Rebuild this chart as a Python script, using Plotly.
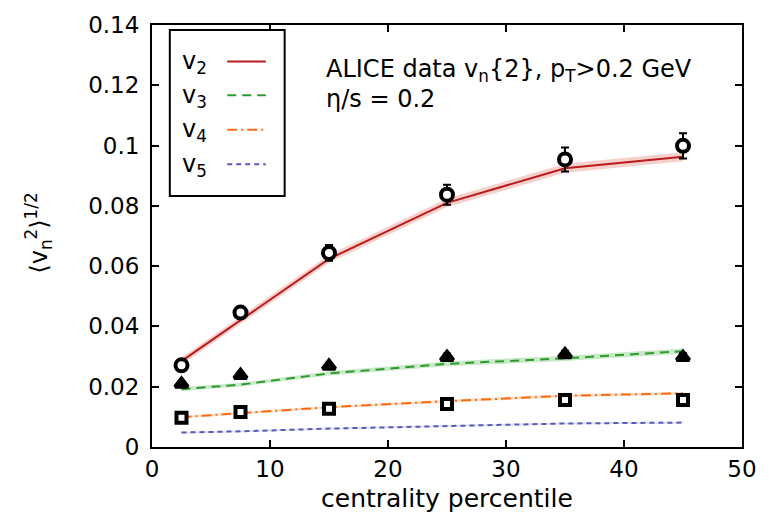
import plotly.graph_objects as go

# centrality bins (percent)
centrality = [2.5, 7.5, 15, 25, 35, 45]

# ALICE v_n{2} measurements and uncertainties
alice_v2 = [0.0271, 0.0446, 0.0644, 0.0837, 0.0954, 0.0999]
alice_v2_err = [0.0010, 0.0012, 0.0026, 0.0033, 0.0040, 0.0042]
alice_v3 = [0.0209, 0.0238, 0.0269, 0.0298, 0.0307, 0.0298]
alice_v3_err = [0.0008, 0.0008, 0.0010, 0.0012, 0.0012, 0.0013]
alice_v4 = [0.0097, 0.0116, 0.0127, 0.0143, 0.0156, 0.0156]
alice_v4_err = [0.0005, 0.0005, 0.0005, 0.0005, 0.0005, 0.0005]

# hydro calculation, eta/s = 0.2, with its statistical band
model_v2 = [0.0285, 0.0421, 0.0624, 0.0810, 0.0925, 0.0963]
model_v2_err = [0.0012, 0.0012, 0.0013, 0.0014, 0.0015, 0.0015]
model_v3 = [0.0192, 0.0207, 0.0244, 0.0276, 0.0294, 0.0318]
model_v3_err = [0.0006, 0.0006, 0.0007, 0.0008, 0.0009, 0.0009]
model_v4 = [0.0099, 0.0112, 0.0132, 0.0152, 0.0170, 0.0178]
model_v4_err = [0.0004, 0.0004, 0.0004, 0.0005, 0.0005, 0.0005]
model_v5 = [0.0048, 0.0052, 0.0061, 0.0070, 0.0078, 0.0081]
model_v5_err = [0.0003, 0.0003, 0.0003, 0.0003, 0.0003, 0.0003]

x_ticks = [0, 10, 20, 30, 40, 50]
y_ticks = [0, 0.02, 0.04, 0.06, 0.08, 0.1, 0.12, 0.14]
y_tick_labels = ["0", "0.02", "0.04", "0.06", "0.08", "0.1", "0.12", "0.14"]

FONT = "DejaVu Sans, Liberation Sans, Arial, sans-serif"

series = [
    ("v<sub>2</sub>", model_v2, model_v2_err, "#b81c1c", "rgba(232,120,110,0.35)", "solid"),
    ("v<sub>3</sub>", model_v3, model_v3_err, "#2e9a2e", "rgba(120,200,120,0.40)", "9px,6px"),
    ("v<sub>4</sub>", model_v4, model_v4_err, "#ff6a10", "rgba(255,170,110,0.35)", "10px,4px,2px,4px"),
    ("v<sub>5</sub>", model_v5, model_v5_err, "#5a5ab8", "rgba(160,160,225,0.35)", "5px,4px"),
]

fig = go.Figure()

for name, vals, errs, color, band, dash in series:
    upper = [v + e for v, e in zip(vals, errs)]
    lower = [v - e for v, e in zip(vals, errs)]
    fig.add_trace(go.Scatter(x=centrality, y=upper, mode="lines",
                             line=dict(width=0), hoverinfo="skip", showlegend=False))
    fig.add_trace(go.Scatter(x=centrality, y=lower, mode="lines", fill="tonexty",
                             fillcolor=band, line=dict(width=0),
                             hoverinfo="skip", showlegend=False))
    fig.add_trace(go.Scatter(x=centrality, y=vals, mode="lines", name=name,
                             line=dict(color=color, width=2, dash=dash),
                             showlegend=False))

data_sets = [
    (alice_v2, alice_v2_err, "circle", "white", 12),
    (alice_v3, alice_v3_err, "triangle-up", "black", 11),
    (alice_v4, alice_v4_err, "square", "white", 10),
]
for vals, errs, sym, fillc, size in data_sets:
    fig.add_trace(go.Scatter(
        x=centrality, y=vals, mode="markers", showlegend=False,
        marker=dict(symbol=sym, size=size, color=fillc,
                    line=dict(color="black", width=4)),
        error_y=dict(type="data", array=errs, color="black", thickness=2, width=4),
    ))

# hand-built key: label on the left, line sample on the right
key_rows = [57, 91, 126, 161]
shapes = [dict(type="rect", xref="paper", yref="paper",
               x0=(170 - 152) / 596, x1=(286 - 152) / 596,
               y0=(447 - 193) / 427, y1=(447 - 25) / 427,
               line=dict(color="black", width=2), fillcolor="white", layer="above")]
annotations = []
for (name, _, _, color, _, dash), py in zip(series, key_rows):
    yp = (447 - py) / 427
    shapes.append(dict(type="line", xref="paper", yref="paper",
                       x0=(228 - 152) / 596, x1=(267 - 152) / 596, y0=yp, y1=yp,
                       line=dict(color=color, width=2, dash=dash), layer="above"))
    annotations.append(dict(text=name, xref="paper", yref="paper",
                            x=(180 - 152) / 596, y=yp, xanchor="left", yanchor="middle",
                            yshift=-1, showarrow=False,
                            font=dict(family=FONT, size=24, color="black")))

annotations += [
    dict(text="ALICE data v<sub>n</sub>{2}, p<sub>T</sub>>0.2 GeV", xref="paper", yref="paper",
         x=(326 - 152) / 596, y=(447 - 66) / 427, xanchor="left", yanchor="middle",
         showarrow=False, font=dict(family=FONT, size=24, color="black")),
    dict(text="η/s = 0.2", xref="paper", yref="paper",
         x=(326 - 152) / 596, y=(447 - 95) / 427, xanchor="left", yanchor="middle",
         showarrow=False, font=dict(family=FONT, size=24, color="black")),
    dict(text="centrality percentile", xref="paper", yref="paper",
         x=(450 - 152) / 596, y=(447 - 499) / 427, xanchor="center", yanchor="middle",
         showarrow=False, font=dict(family=FONT, size=25, color="black")),
    dict(text="⟨v<sub>n</sub><sup>2</sup>⟩<sup>1/2</sup>", xref="paper", yref="paper",
         x=(37 - 152) / 596, y=(447 - 231) / 427, xanchor="center", yanchor="middle",
         textangle=-90, showarrow=False, font=dict(family=FONT, size=24, color="black")),
]

axis_common = dict(showgrid=False, zeroline=False, showline=True, linecolor="black",
                   linewidth=2, mirror="allticks", ticks="inside", ticklen=7,
                   tickwidth=1.5, tickcolor="black",
                   tickfont=dict(family=FONT, size=23, color="black"))

fig.update_layout(
    width=769, height=515,
    margin=dict(l=152, r=21, t=20, b=68),
    paper_bgcolor="white", plot_bgcolor="white",
    xaxis=dict(range=[0, 50], tickvals=x_ticks, **axis_common),
    yaxis=dict(range=[0, 0.14], tickvals=y_ticks, ticktext=y_tick_labels,
               ticklabelstandoff=6, **axis_common),
    shapes=shapes, annotations=annotations, showlegend=False,
)

fig.write_html("out.html")
